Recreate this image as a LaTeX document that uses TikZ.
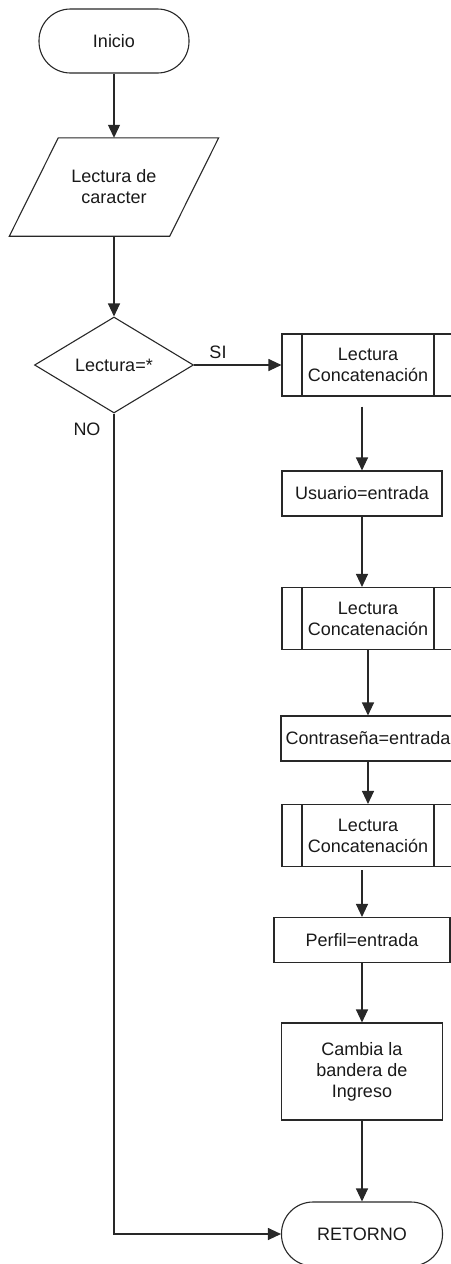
\documentclass[tikz,border=0pt]{standalone}
\usepackage{fontspec}
\setmainfont{Liberation Sans}
\usetikzlibrary{shapes.geometric,arrows.meta}
\definecolor{ln}{RGB}{40,40,40}
\definecolor{ink}{RGB}{25,25,25}
\begin{document}
\begin{tikzpicture}[x=1pt,y=-1pt,
  every node/.style={font={\fontsize{18}{21}\selectfont}, text=ink, align=center, inner sep=0pt},
  line/.style={draw=ln, line width=1.1pt},
  arrow/.style={line, -{Triangle[length=13pt,width=12pt]}},
  term/.style={line, rectangle, rounded corners=31.5pt, minimum width=#1, minimum height=64pt},
  proc/.style={line, rectangle, minimum width=#1, minimum height=45pt},
  subproc/.style={line, rectangle, minimum width=172pt, minimum height=62pt,
    path picture={
      \draw[line] ([xshift=20pt]path picture bounding box.north west) -- ([xshift=20pt]path picture bounding box.south west)
                  ([xshift=-20pt]path picture bounding box.north east) -- ([xshift=-20pt]path picture bounding box.south east);}},
  decision/.style={line, diamond, aspect=1.6, minimum width=159pt, minimum height=96pt}
]
\useasboundingbox (0,0) rectangle (450,1264);

% main column
\node[term=150pt] (ini) at (114,41) {Inicio};
\node[minimum width=160pt, minimum height=98pt] (lec) at (114,187) {Lectura de\\caracter};
\draw[line] ([xshift=24.5pt]lec.north west) -- ([xshift=24.5pt]lec.north east)
  -- ([xshift=-24.5pt]lec.south east) -- ([xshift=-24.5pt]lec.south west) -- cycle;
\node[decision] (dec) at (114,365) {Lectura=*};

% right column
\node[subproc] (s1) at (368,365) {Lectura\\Concatenación};
\node[proc=160pt] (usr) at (362,493.5) {Usuario=entrada};
\node[subproc] (s2) at (368,618.5) {Lectura\\Concatenación};
\node[proc=174pt] (pwd) at (368,738.5) {Contraseña=entrada};
\node[subproc] (s3) at (368,835.5) {Lectura\\Concatenación};
\node[proc=176pt] (per) at (362,940) {Perfil=entrada};
\node[line, rectangle, minimum width=161pt, minimum height=97pt] (ban) at (362,1071.5) {Cambia la\\bandera de\\Ingreso};
\node[term=161pt] (ret) at (362,1234) {RETORNO};

% branch labels
\node (si) at (218,352) {SI};
\node (no) at (87,429) {NO};

% connectors
\draw[arrow] (ini) -- (lec);
\draw[arrow] (lec) -- (dec);
\draw[arrow] (dec.east) -- (s1.west);
\draw[arrow, shorten <=10pt] (usr.north |- s1.south) -- (usr.north);
\draw[arrow] (usr) -- (usr.south |- s2.north);
\draw[arrow] (s2.south) -- (pwd.north);
\draw[arrow] (pwd) -- (s3);
\draw[arrow, shorten <=3pt] (per.north |- s3.south) -- (per.north);
\draw[arrow] (per) -- (per.south |- ban.north);
\draw[arrow] (ban) -- (ret);
\draw[arrow] (dec.south) -- (dec.south |- ret.west) -- (ret.west);
\end{tikzpicture}
\end{document}
